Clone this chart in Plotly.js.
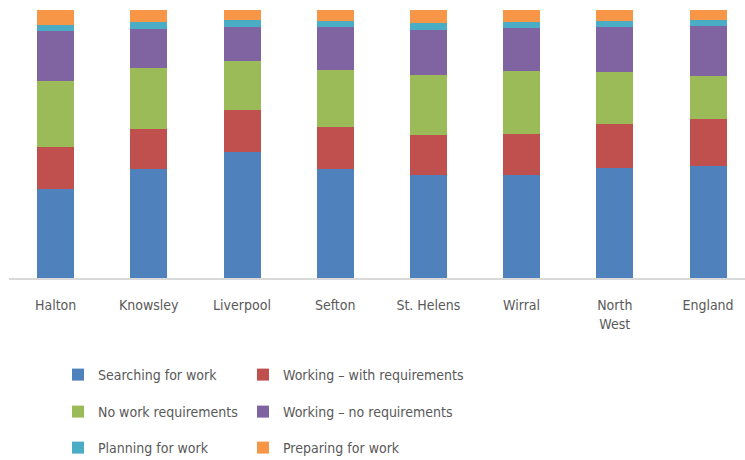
<!DOCTYPE html>
<html>
<head>
<meta charset="utf-8">
<script src="https://cdn.plot.ly/plotly-3.0.1.min.js"></script>
<style>html,body{margin:0;padding:0;background:#fff;}#chart{width:745px;height:460px;}</style>
</head>
<body>
<div id="chart"></div>
<script>
var categories = ["Halton", "Knowsley", "Liverpool", "Sefton", "St. Helens", "Wirral", "North<br>West", "England"];
var searching    = [33.2, 40.6, 47.1, 40.6, 38.4, 38.4, 40.9, 41.9];
var withReq      = [15.7, 15.1, 15.4, 15.8, 15.2, 15.2, 16.5, 17.3];
var noWorkReq    = [24.6, 22.6, 18.5, 21.3, 22.4, 23.6, 19.5, 16.3];
var workingNoReq = [18.5, 14.7, 12.7, 16.2, 16.8, 16.2, 16.8, 18.7];
var planning     = [2.4, 2.5, 2.5, 2.1, 2.4, 2.1, 2.1, 2.1];
var preparing    = [5.6, 4.5, 3.7, 4.1, 4.9, 4.5, 4.1, 3.7];

var seriesNames = ["Searching for work", "Working \u2013 with requirements", "No work requirements",
                   "Working \u2013 no requirements", "Planning for work", "Preparing for work"];
var seriesData = [searching, withReq, noWorkReq, workingNoReq, planning, preparing];
var colors = ["#4F81BD", "#C0504D", "#9BBB59", "#8064A2", "#4BACC6", "#F79646"];
var legendIds = ["legend", "legend", "legend2", "legend2", "legend3", "legend3"];
var legendWidths = [140, 220, 140, 220, 140, 220];

var FONT = '"DejaVu Sans Condensed", "DejaVu Sans", sans-serif';

var traces = seriesData.map(function (vals, i) {
  return {
    type: "bar",
    name: seriesNames[i],
    x: categories,
    y: vals,
    marker: {color: colors[i], line: {width: 0}},
    legend: legendIds[i],
    legendwidth: legendWidths[i]
  };
});

function legendAt(y) {
  return {
    orientation: "h",
    xref: "container", yref: "container",
    x: 58 / 745, xanchor: "left",
    y: y, yanchor: "middle",
    traceorder: "normal",
    entrywidthmode: "pixels",
    font: {family: FONT, size: 14, color: "#595959"},
    bgcolor: "rgba(0,0,0,0)"
  };
}

var layout = {
  width: 745, height: 460,
  margin: {l: 9, r: 0, t: 10, b: 182},
  paper_bgcolor: "#ffffff",
  plot_bgcolor: "#ffffff",
  barmode: "stack",
  barnorm: "percent",
  bargap: 0.603,
  showlegend: true,
  hovermode: false,
  font: {family: FONT, size: 14, color: "#595959"},
  xaxis: {
    type: "category",
    range: [-0.5, 7.397],
    showline: true, linecolor: "#D9D9D9", linewidth: 1.5,
    ticks: "", showgrid: false, zeroline: false,
    automargin: false,
    ticklabelstandoff: 14,
    tickfont: {family: FONT, size: 14, color: "#595959"}
  },
  yaxis: {
    range: [0, 100], visible: false, showgrid: false, zeroline: false, fixedrange: true
  },
  legend: legendAt(1 - 375 / 460),
  legend2: legendAt(1 - 412 / 460),
  legend3: legendAt(1 - 448 / 460)
};

Plotly.newPlot("chart", traces, layout, {displayModeBar: false, staticPlot: true});
</script>
</body>
</html>
